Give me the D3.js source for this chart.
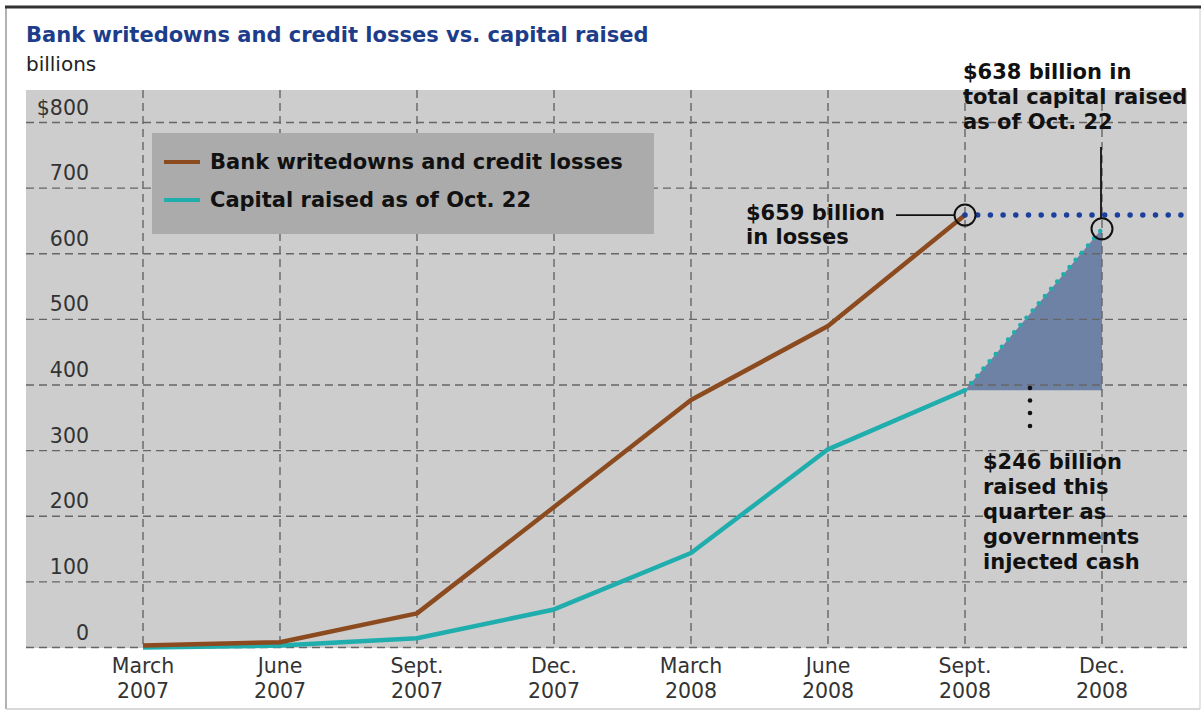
<!DOCTYPE html>
<html lang="en">
<head>
  <meta charset="UTF-8">
  <title>Bank writedowns vs. capital raised</title>
  <script src="https://d3js.org/d3.v7.min.js"></script>
  <style>
    body { margin: 0; background: white; font-family: "DejaVu Sans", Verdana, sans-serif; }
    .grid line { stroke: #666; stroke-width: 1.4; stroke-dasharray: 8,5; }
    .tick-label { font-size: 20.5px; fill: #333; }
    .note { font-size: 21px; font-weight: bold; fill: #111; }
  </style>
</head>
<body>
  <svg width="1203" height="711"></svg>
  <script>
    // quarters shown along the bottom
    const quarterMonths = ["March", "June", "Sept.", "Dec.", "March", "June", "Sept.", "Dec."];
    const quarterYears = ["2007", "2007", "2007", "2007", "2008", "2008", "2008", "2008"];
    // $ billions, cumulative
    const losses = [3, 8, 52, 214, 377, 490, 659];
    const capital = [0, 3, 14, 58, 144, 302, 392];
    const capitalLatest = 638;   // Dec. 2008, as of Oct. 22
    const yTicks = [0, 100, 200, 300, 400, 500, 600, 700, 800];

    const svg = d3.select("svg");
    const plot = {left: 26, right: 1187, top: 90, bottom: 648};

    const idx = d3.range(quarterMonths.length);
    const x = d3.scalePoint().domain(idx).range([143, 1102]);
    const y = d3.scaleLinear().domain([0, 800]).range([647.5, 122.5]);

    // frame
    svg.append("line").attr("x1", 6).attr("x2", 6).attr("y1", 7).attr("y2", 709)
      .attr("stroke", "#999").attr("stroke-width", 1.5);
    svg.append("line").attr("x1", 1200).attr("x2", 1200).attr("y1", 7).attr("y2", 709)
      .attr("stroke", "#ddd").attr("stroke-width", 1.5);
    svg.append("line").attr("x1", 6).attr("x2", 1200).attr("y1", 709).attr("y2", 709)
      .attr("stroke", "#ccc").attr("stroke-width", 1.5);
    svg.append("line").attr("x1", 5).attr("x2", 1201).attr("y1", 7).attr("y2", 7)
      .attr("stroke", "#333").attr("stroke-width", 3);

    // titles
    svg.append("text").attr("x", 26).attr("y", 42)
      .style("font-size", "21px").style("font-weight", "bold").style("fill", "#1d3d8a")
      .text("Bank writedowns and credit losses vs. capital raised");
    svg.append("text").attr("x", 26).attr("y", 71)
      .style("font-size", "20px").style("fill", "#222")
      .text("billions");

    // plot background
    svg.append("rect")
      .attr("x", plot.left).attr("y", plot.top)
      .attr("width", plot.right - plot.left).attr("height", plot.bottom - plot.top)
      .attr("fill", "#cdcdcd");

    // shaded quarter gain
    const last = capital.length - 1;
    svg.append("path")
      .datum([[x(last), y(capital[last])], [x(last + 1), y(capitalLatest)], [x(last + 1), y(capital[last])]])
      .attr("d", d => "M" + d.join("L") + "Z")
      .attr("fill", "#6e82a6");

    // grid
    const grid = svg.append("g").attr("class", "grid");
    grid.selectAll(".h").data(yTicks).enter().append("line")
      .attr("x1", plot.left).attr("x2", plot.right)
      .attr("y1", d => y(d)).attr("y2", d => y(d));
    grid.selectAll(".v").data(idx).enter().append("line")
      .attr("x1", d => x(d)).attr("x2", d => x(d))
      .attr("y1", plot.top).attr("y2", plot.bottom);

    // y labels sit above their gridline
    svg.selectAll(".ylab").data(yTicks).enter().append("text")
      .attr("class", "tick-label")
      .attr("x", 89).attr("y", d => y(d) - 8)
      .attr("text-anchor", "end")
      .text(d => d === 800 ? "$800" : d);

    // x labels
    const xl = svg.selectAll(".xlab").data(idx).enter().append("text")
      .attr("class", "tick-label")
      .attr("text-anchor", "middle");
    xl.append("tspan").attr("x", d => x(d)).attr("y", 673).text(d => quarterMonths[d]);
    xl.append("tspan").attr("x", d => x(d)).attr("y", 698).text(d => quarterYears[d]);

    // legend
    svg.append("rect").attr("x", 152).attr("y", 133).attr("width", 502).attr("height", 101)
      .attr("fill", "#ababab");
    const legend = [
      {label: "Bank writedowns and credit losses", color: "#8c4a1f", y: 162},
      {label: "Capital raised as of Oct. 22", color: "#1fadad", y: 200}
    ];
    legend.forEach(l => {
      svg.append("line").attr("x1", 164).attr("x2", 200).attr("y1", l.y).attr("y2", l.y)
        .attr("stroke", l.color).attr("stroke-width", 4);
      svg.append("text").attr("class", "note").attr("x", 210).attr("y", l.y + 7).text(l.label);
    });

    // series lines
    const line = d3.line().x((d, i) => x(i)).y(d => y(d));
    svg.append("path").datum(capital).attr("d", line)
      .attr("fill", "none").attr("stroke", "#1fadad").attr("stroke-width", 4.5).attr("stroke-linejoin", "round");
    svg.append("path").datum(losses).attr("d", line)
      .attr("fill", "none").attr("stroke", "#8c4a1f").attr("stroke-width", 4.5).attr("stroke-linejoin", "round");

    // dotted capital projection
    svg.append("line")
      .attr("x1", x(last)).attr("y1", y(capital[last]))
      .attr("x2", x(last + 1)).attr("y2", y(capitalLatest))
      .attr("stroke", "#1fadad").attr("stroke-width", 4.5)
      .attr("stroke-linecap", "round").attr("stroke-dasharray", "0,9.5");

    // dotted loss level
    const lossTop = losses[losses.length - 1];
    svg.append("line")
      .attr("x1", x(losses.length - 1)).attr("x2", plot.right)
      .attr("y1", y(lossTop)).attr("y2", y(lossTop))
      .attr("stroke", "#1b3f9c").attr("stroke-width", 5.5)
      .attr("stroke-linecap", "round").attr("stroke-dasharray", "0,12.7");

    // circles
    [[x(losses.length - 1), y(lossTop)], [x(last + 1), y(capitalLatest)]].forEach(p => {
      svg.append("circle").attr("cx", p[0]).attr("cy", p[1]).attr("r", 10.5)
        .attr("fill", "none").attr("stroke", "#111").attr("stroke-width", 2);
    });

    // annotations
    svg.append("line").attr("x1", 896).attr("x2", x(losses.length - 1) - 10.5)
      .attr("y1", y(lossTop)).attr("y2", y(lossTop)).attr("stroke", "#111").attr("stroke-width", 1.8);
    const a1 = svg.append("text").attr("class", "note");
    a1.append("tspan").attr("x", 746).attr("y", 220).text("$659 billion");
    a1.append("tspan").attr("x", 746).attr("y", 244).text("in losses");

    svg.append("line").attr("x1", x(last + 1) - 1).attr("x2", x(last + 1) - 1)
      .attr("y1", 147).attr("y2", y(capitalLatest) - 10.5).attr("stroke", "#111").attr("stroke-width", 1.8);
    const a2 = svg.append("text").attr("class", "note");
    ["$638 billion in", "total capital raised", "as of Oct. 22"].forEach((t, i) => {
      a2.append("tspan").attr("x", 963).attr("y", 79 + i * 25).text(t);
    });

    svg.selectAll(".qdot").data([388, 400.5, 413, 426]).enter().append("circle")
      .attr("cx", 1030).attr("cy", d => d).attr("r", 2.3).attr("fill", "#111");
    const a3 = svg.append("text").attr("class", "note");
    ["$246 billion", "raised this", "quarter as", "governments", "injected cash"].forEach((t, i) => {
      a3.append("tspan").attr("x", 983).attr("y", 469 + i * 25).text(t);
    });
  </script>
</body>
</html>
